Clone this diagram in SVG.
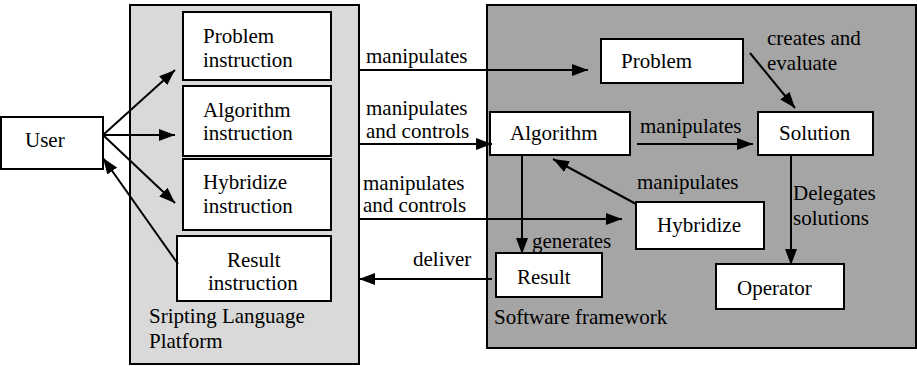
<svg xmlns="http://www.w3.org/2000/svg" width="917" height="366" viewBox="0 0 917 366" font-family="Liberation Serif, Times New Roman, DejaVu Serif, serif">
<style>
text{font-family:'Liberation Serif','Times New Roman','DejaVu Serif',serif;font-size:21px;fill:#000}
.box{fill:#fff;stroke:#000;stroke-width:2}
.c{fill:none;stroke:#000;stroke-width:2;marker-end:url(#ah)}
</style>
<defs>
<marker id="ah" markerUnits="userSpaceOnUse" markerWidth="16" markerHeight="12" refX="16" refY="6" orient="auto">
<path d="M0,0 L16,6 L0,12 z" fill="#000"/>
</marker>
</defs>
<g id="platform">
<rect x="130" y="5" width="229" height="359" fill="#d9d9d9" stroke="#000" stroke-width="2"/>
<text x="149" y="323">Sripting Language</text>
<text x="149" y="348">Platform</text>
</g>
<g id="framework">
<rect x="487" y="5" width="429" height="343" fill="#a5a5a5" stroke="#000" stroke-width="2"/>
<text x="494" y="324">Software framework</text>
</g>
<g id="user">
<rect class="box" x="1" y="117" width="102" height="52"/>
<text x="25" y="147">User</text>
</g>
<g id="problem-instruction">
<rect class="box" x="183" y="12" width="148" height="68"/>
<text x="203" y="43">Problem</text>
<text x="203" y="67">instruction</text>
</g>
<g id="algorithm-instruction">
<rect class="box" x="183" y="86" width="148" height="70"/>
<text x="203" y="117">Algorithm</text>
<text x="203" y="140">instruction</text>
</g>
<g id="hybridize-instruction">
<rect class="box" x="183" y="159" width="148" height="71"/>
<text x="203" y="189">Hybridize</text>
<text x="203" y="213">instruction</text>
</g>
<g id="result-instruction">
<rect class="box" x="177" y="236" width="154" height="65"/>
<text x="227" y="267">Result</text>
<text x="208" y="290">instruction</text>
</g>
<g id="problem">
<rect class="box" x="601" y="39" width="142" height="44"/>
<text x="621" y="68">Problem</text>
</g>
<g id="algorithm">
<rect class="box" x="490" y="112" width="140" height="43"/>
<text x="510" y="140">Algorithm</text>
</g>
<g id="solution">
<rect class="box" x="758" y="112" width="115" height="43"/>
<text x="779" y="140">Solution</text>
</g>
<g id="hybridize">
<rect class="box" x="636" y="202" width="128" height="47"/>
<text x="657" y="232">Hybridize</text>
</g>
<g id="result">
<rect class="box" x="496" y="253" width="106" height="44"/>
<text x="517" y="284">Result</text>
</g>
<g id="operator">
<rect class="box" x="716" y="264" width="128" height="45"/>
<text x="737" y="295">Operator</text>
</g>
<g id="connectors">
<path class="c" d="M103,135 L175,70"/>
<path class="c" d="M103,135 L175,135"/>
<path class="c" d="M103,135 L175,203"/>
<path class="c" d="M178,264 L103,158"/>
<path class="c" d="M359,70 L588,70"/>
<path class="c" d="M359,144 L492,144"/>
<path class="c" d="M359,219 L622,219"/>
<path class="c" d="M492,279 L359,279"/>
<path class="c" d="M637,144 L753,144"/>
<path class="c" d="M750,53 L795,108"/>
<path class="c" d="M636,204 L553,159"/>
<path class="c" d="M522,155 L522,254"/>
<path class="c" d="M791,155 L791,265"/>
<text x="366" y="63">manipulates</text>
<text x="366" y="115">manipulates</text>
<text x="366" y="138">and controls</text>
<text x="363" y="190">manipulates</text>
<text x="363" y="212">and controls</text>
<text x="413" y="266">deliver</text>
<text x="640" y="133">manipulates</text>
<text x="767" y="45">creates and</text>
<text x="767" y="70">evaluate</text>
<text x="637" y="189">manipulates</text>
<text x="532" y="248">generates</text>
<text x="793" y="200">Delegates</text>
<text x="793" y="225">solutions</text>
</g>
</svg>
